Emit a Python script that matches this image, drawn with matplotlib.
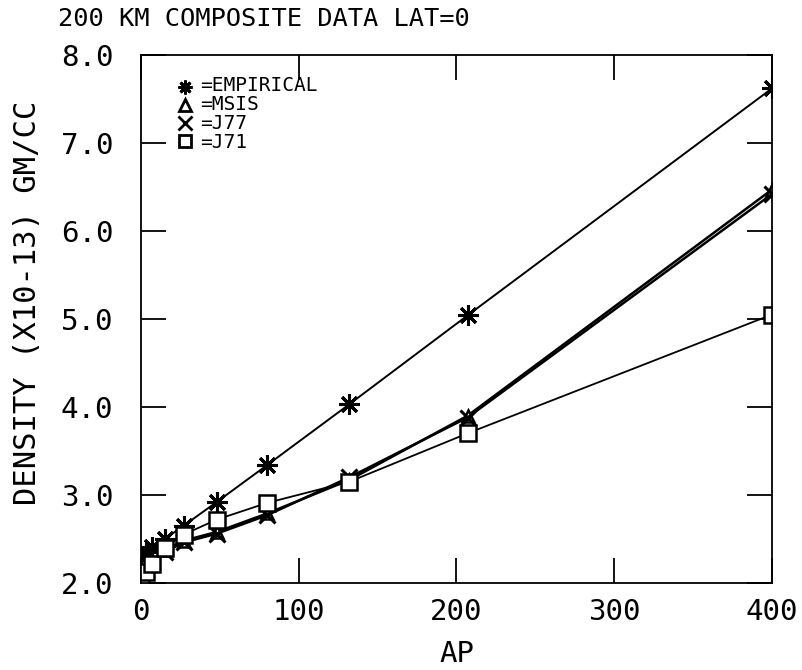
import matplotlib
matplotlib.use("Agg")
import matplotlib.pyplot as plt

# Ap index values and densities (x10-13 gm/cc)
ap = [0, 3, 7, 15, 27, 48, 80, 132, 207, 400]
empirical = [2.30, 2.35, 2.41, 2.50, 2.65, 2.92, 3.34, 4.03, 5.04, 7.62]
msis = [2.10, 2.17, 2.26, 2.37, 2.48, 2.58, 2.79, 3.17, 3.90, 6.47]
j77 = [2.08, 2.15, 2.24, 2.35, 2.46, 2.56, 2.77, 3.20, 3.88, 6.42]
j71 = [2.05, 2.12, 2.22, 2.40, 2.55, 2.72, 2.91, 3.15, 3.70, 5.05]

x_ticks = [0, 100, 200, 300, 400]
y_ticks = [2.0, 3.0, 4.0, 5.0, 6.0, 7.0, 8.0]
legend_labels = ["=EMPIRICAL", "=MSIS", "=J77", "=J71"]

font = "DejaVu Sans Mono"
plt.rcParams["font.family"] = font

fig = plt.figure(figsize=(8.02, 6.70), dpi=100)
ax = fig.add_axes([0.1758, 0.1299, 0.7868, 0.7881])

asterisk = (8, 2, 0)
ax.plot(ap, empirical, color="black", lw=1.4, marker=asterisk, ms=15, mew=2.2)
ax.plot(ap, msis, color="black", lw=1.8, marker="^", ms=9, mfc="white", mew=1.8)
ax.plot(ap, j77, color="black", lw=1.8, marker="x", ms=11, mew=2.2)
ax.plot(ap, j71, color="black", lw=1.3, marker="s", ms=11, mfc="white", mew=1.8)

ax.set_xlim(0, 400)
ax.set_ylim(2.0, 8.0)
ax.set_xticks(x_ticks)
ax.set_yticks(y_ticks)
ax.set_xticklabels([str(t) for t in x_ticks])
ax.set_yticklabels([f"{t:.1f}" for t in y_ticks])
ax.tick_params(direction="in", length=18, width=1.3, labelsize=21,
               top=True, right=True)
ax.tick_params(axis="y", pad=20)
ax.tick_params(axis="x", pad=11)
for s in ax.spines.values():
    s.set_linewidth(1.3)

# manual legend: one block of text, markers placed beside each row
markers = [asterisk, "^", "x", "s"]
row_step = 0.034
for i, m in enumerate(markers):
    yy = 0.939 - i * row_step
    kw = dict(color="black", ms=10, mew=2.0, ls="none")
    if m in ("^", "s"):
        kw["mfc"] = "white"
        kw["ms"] = 8
    ax.plot([0.070], [yy], marker=m, transform=ax.transAxes, **kw)
ax.text(0.094, 0.939 - 1.5 * row_step, "\n".join(legend_labels),
        transform=ax.transAxes, fontsize=14, va="center", ha="left",
        linespacing=0.99)

fig.text(0.072, 0.972, "200 KM COMPOSITE DATA LAT=0", fontsize=18.3,
         va="center", ha="left")
ax.set_xlabel("AP", fontsize=21, labelpad=10)
ax.set_ylabel("DENSITY (X10-13) GM/CC", fontsize=22)
ax.yaxis.set_label_coords(-0.157, 0.53)

fig.savefig("out.png", dpi=100)
